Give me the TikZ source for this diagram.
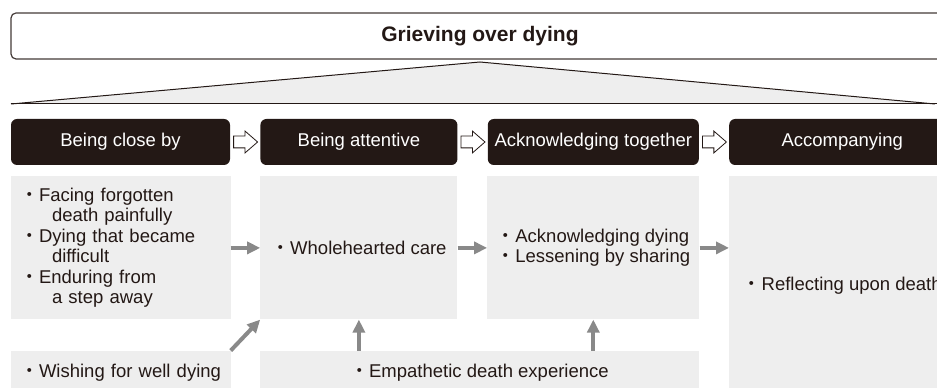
\documentclass[tikz,border=0pt]{standalone}
\usepackage{fontspec}
\setmainfont{Liberation Sans}
\newfontfamily\cjk{Noto Sans CJK JP}
\usetikzlibrary{positioning}
\usetikzlibrary{arrows.meta}
\usetikzlibrary{shapes.arrows}
\definecolor{ink}{RGB}{35,24,21}
\definecolor{pale}{RGB}{238,238,238}
\definecolor{flowgray}{RGB}{137,137,137}
\newcommand\dotmark{\makebox[19pt][c]{\cjk ・}}
\newcommand\contline{\hspace*{32pt}}
\tikzset{txt/.style={font=\fontsize{18.5}{20.5}\selectfont}}
\tikzset{stage/.style={txt, fill=ink, text=white, rounded corners=6pt, minimum height=46pt, inner sep=0pt}}
\tikzset{theme/.style={txt, fill=pale, text=ink, inner sep=0pt, align=left}}
\tikzset{hollow/.style={draw=ink, fill=white, line width=0.8pt, single arrow, inner xsep=0pt, inner ysep=5.5pt,
    minimum height=24pt, single arrow head extend=5pt, single arrow tip angle=82}}
\tikzset{flow/.style={draw=flowgray, line width=4pt, -{Triangle[length=13pt,width=12pt]}}}

\begin{document}
\begin{tikzpicture}[x=1pt, y=1pt]
\useasboundingbox (0,0) rectangle (937,388);
\clip (0,0) rectangle (937,388);

\node[draw=ink!85, line width=1.2pt, rounded corners=5pt, minimum width=938pt, minimum height=46pt,
  font=\fontsize{21}{24}\selectfont\bfseries, text=ink] (grief) at (480,352) {Grieving over dying};

\coordinate (apex) at (480,326);
\coordinate (baseL) at (11,284);
\coordinate (baseR) at (935,284);
\filldraw[fill=pale, draw=ink, line width=1pt] (baseL) -- (apex) -- (baseR);
\draw[ink, line width=1pt] (baseL) -- (937,284);

\node[stage, minimum width=219pt] (close) at (120.5,246) {Being close by};
\node[stage, minimum width=197pt, right=30pt of close] (attentive) {Being attentive};
\node[stage, minimum width=211pt, right=30pt of attentive] (together) {Acknowledging together};
\node[stage, minimum width=226pt, right=30pt of together] (accompany) {Accompanying};

\node[hollow, right=3pt of close] (next1) {};
\node[hollow, right=3pt of attentive] (next2) {};
\node[hollow, right=3pt of together] (next3) {};

\node[theme, minimum height=143pt, text width=201pt, inner xsep=9.5pt, below=11pt of close] (facing)
  {\dotmark Facing forgotten\\\contline death painfully\\\dotmark Dying that became\\\contline difficult\\\dotmark Enduring from\\\contline a step away};
\node[theme, minimum height=143pt, minimum width=197pt, below=11pt of attentive] (care) {\dotmark Wholehearted care};
\node[theme, minimum height=143pt, minimum width=212pt, below=11pt of together] (ack)
  {\dotmark Acknowledging dying\\\dotmark Lessening by sharing};
\node[theme, minimum height=218pt, minimum width=226pt, below=11pt of accompany] (reflect) {\dotmark Reflecting upon death};

\node[theme, minimum height=44pt, text width=201pt, inner xsep=9.5pt, below=31pt of facing] (wishing) {\dotmark Wishing for well dying};
\node[theme, minimum height=44pt, minimum width=439pt, right=29pt of wishing] (empathy) {\dotmark Empathetic death experience};

\draw[flow] (facing.east) -- (care.west);
\draw[flow] (care.east) -- (ack.west);
\draw[flow] (ack.east) -- (ack.east -| reflect.west);
\draw[flow] (wishing.north east) -- (care.south west);
\draw[flow] (care.south |- empathy.north) -- (care.south);
\draw[flow] (ack.south |- empathy.north) -- (ack.south);
\end{tikzpicture}
\end{document}
